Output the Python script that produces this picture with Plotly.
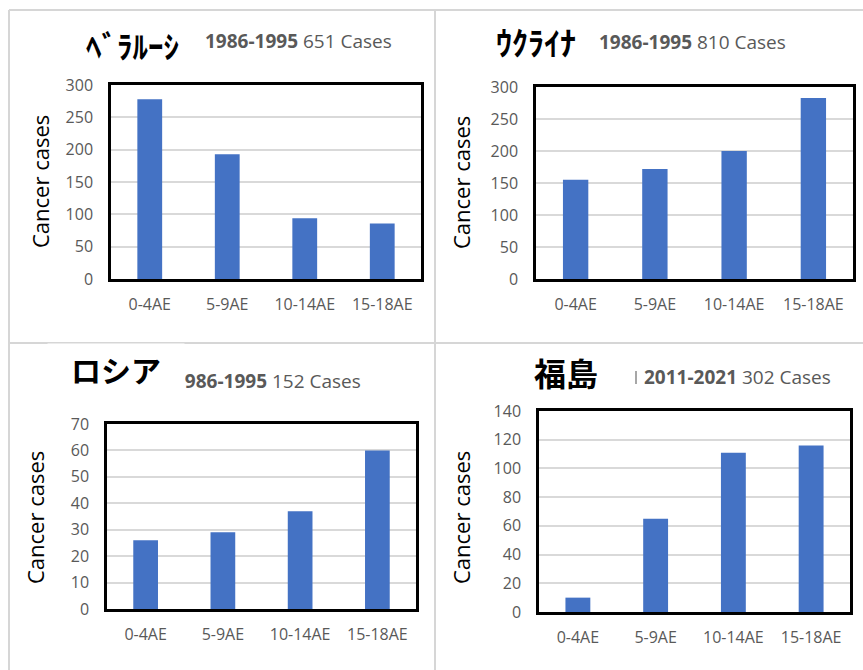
import plotly.graph_objects as go

W, H = 863, 670

# Age groups shared by every panel
age_groups = ["0-4AE", "5-9AE", "10-14AE", "15-18AE"]

# Thyroid cancer cases per age group
belarus_cases = [278, 193, 94, 86]
ukraine_cases = [155, 172, 200, 283]
russia_cases = [26, 29, 37, 60]
fukushima_cases = [10, 65, 111, 116]

# Panel headings
region_names = ["ﾍﾞﾗﾙｰｼ", "ｳｸﾗｲﾅ", "ロシア", "福島"]
periods = ["1986-1995", "1986-1995", "1986-1995", "2011-2021"]
totals = ["651 Cases", "810 Cases", "152 Cases", "302 Cases"]
y_tops = [300, 300, 70, 140]
y_steps = [50, 50, 10, 20]

BAR = "#4472C4"
GRID = "#d9d9d9"
TICK = "#595959"
FRAME = "#d6d6d6"
TICK_FONT = dict(family="Open Sans", size=16, color=TICK)


def px_x(x):
    return x / W


def px_y(y):
    return 1 - y / H


# Plot-area boxes in pixels: left, right, top, bottom
boxes = [
    (111, 421, 85, 279),
    (536, 853, 87, 279),
    (107, 416, 424, 609),
    (539, 850, 411, 612),
]
series = [belarus_cases, ukraine_cases, russia_cases, fukushima_cases]

fig = go.Figure()
layout = {}
for i, (vals, (l, r, t, b)) in enumerate(zip(series, boxes)):
    n = "" if i == 0 else str(i + 1)
    fig.add_trace(go.Bar(
        x=age_groups, y=vals, marker_color=BAR, marker_line_width=0,
        xaxis="x" + n, yaxis="y" + n, showlegend=False,
    ))
    layout["xaxis" + n] = dict(
        domain=[px_x(l), px_x(r)], anchor="y" + n, type="category",
        range=[-0.5, 3.5], showgrid=False, showline=True, mirror=True,
        linecolor="black", linewidth=2.5, ticks="", tickfont=TICK_FONT,
        ticklabelstandoff=9, fixedrange=True, automargin=False,
    )
    layout["yaxis" + n] = dict(
        domain=[px_y(b), px_y(t)], anchor="x" + n, range=[0, y_tops[i]],
        dtick=y_steps[i], tick0=0, showgrid=True, gridcolor=GRID, gridwidth=1.5,
        zeroline=False, showline=True, mirror=True, linecolor="black",
        linewidth=2.5, ticks="", tickfont=TICK_FONT, ticklabelstandoff=12,
        fixedrange=True, automargin=False,
    )

annotations = []

# Vertical axis titles
for x, y in [(40, 182), (461, 183), (35, 518), (461, 518)]:
    annotations.append(dict(
        x=px_x(x), y=px_y(y), xref="paper", yref="paper", text="Cancer cases",
        textangle=-90, showarrow=False, xanchor="center", yanchor="middle",
        font=dict(family="Open Sans", size=22, color="black"),
    ))

# Period and total case count next to each region name
sub_pos = [(203, 41), (597, 42), (172, 381), (642, 377)]
for (x, y), per, tot in zip(sub_pos, periods, totals):
    annotations.append(dict(
        x=px_x(x), y=px_y(y), xref="paper", yref="paper",
        text=f"<b>{per}</b> {tot}", showarrow=False, xanchor="left",
        yanchor="middle", font=dict(family="Open Sans", size=19, color=TICK),
    ))

# Region names
name_pos = [(132, 44, 31), (536, 41, 32), (116, 369, 30), (566, 372, 32)]
for (x, y, s), name in zip(name_pos, region_names):
    ann = dict(
        x=px_x(x), y=px_y(y), xref="paper", yref="paper",
        text=f"<b>{name}</b>", showarrow=False, xanchor="center",
        yanchor="middle",
        font=dict(family="Noto Sans CJK JP", size=s, color="black"),
    )
    if name == "ロシア":
        ann.update(bgcolor="white", width=136, height=50, borderpad=0)
    annotations.append(ann)

# Light panel frame lines
shapes = []
for x0, y0, x1, y1 in [(9, 10, 863, 10), (9, 343, 863, 343),
                       (9, 10, 9, 670), (435, 10, 435, 670)]:
    shapes.append(dict(type="line", xref="paper", yref="paper",
                       x0=px_x(x0), y0=px_y(y0), x1=px_x(x1), y1=px_y(y1),
                       line=dict(color=FRAME, width=2), layer="below"))
shapes.append(dict(type="line", xref="paper", yref="paper",
                   x0=px_x(636), y0=px_y(371), x1=px_x(636), y1=px_y(384),
                   line=dict(color="#8a8a8a", width=1.5)))

fig.update_layout(
    width=W, height=H, margin=dict(l=0, r=0, t=0, b=0, autoexpand=False),
    paper_bgcolor="white", plot_bgcolor="white", bargap=0.68,
    annotations=annotations, shapes=shapes, **layout,
)

fig.write_html("out.html", include_plotlyjs=True, config={"displayModeBar": False})
